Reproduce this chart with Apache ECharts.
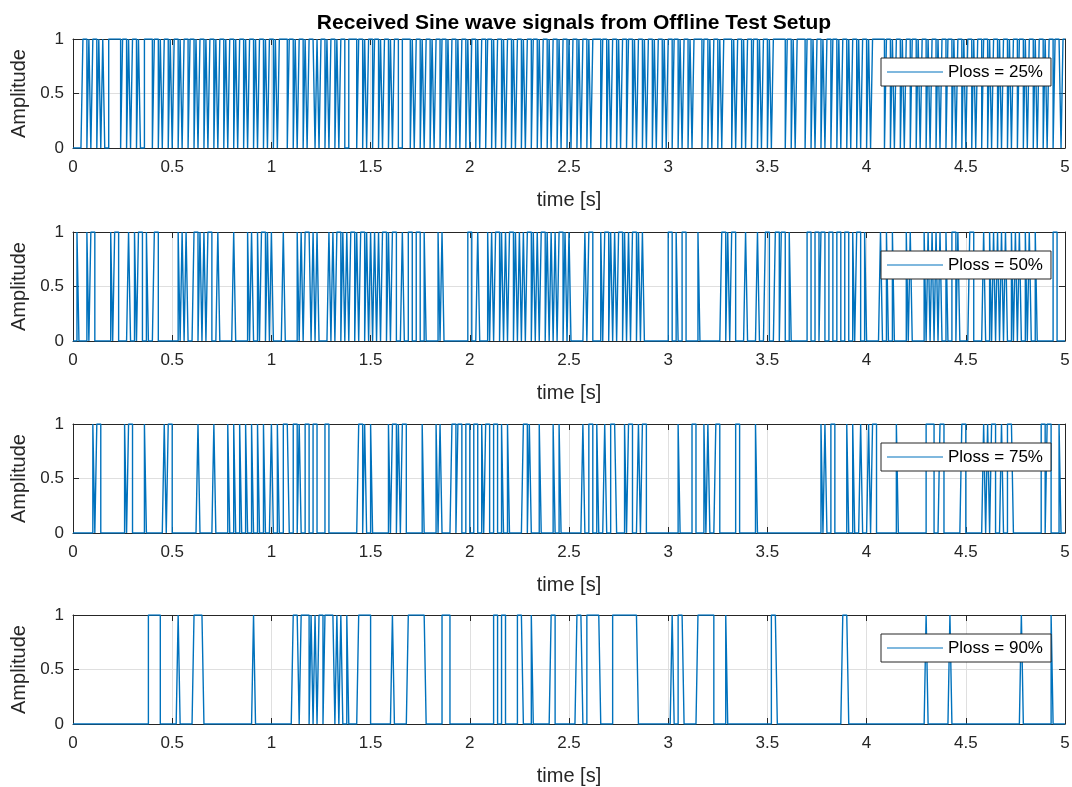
<!DOCTYPE html>
<html>
<head>
<meta charset="utf-8">
<script src="https://cdn.jsdelivr.net/npm/echarts/dist/echarts.min.js"></script>
<style>
  html, body { margin: 0; padding: 0; background: #ffffff; }
  #chart { width: 1072px; height: 787px; }
</style>
</head>
<body>
<div id="chart"></div>
<script>
// Sampling of the received signal
const SAMPLE_PERIOD = 0.01;   // s
const SAMPLE_COUNT = 501;     // samples 0 .. 500  ->  0 .. 5 s

const titleText = 'Received Sine wave signals from Offline Test Setup';
const xAxisName = 'time [s]';
const yAxisName = 'Amplitude';
const lossLabels = ['Ploss = 25%', 'Ploss = 50%', 'Ploss = 75%', 'Ploss = 90%'];

// Runs of samples at amplitude 1, given as [first, last] sample index
// (a single index means a one-sample pulse). Every other sample is 0.
const received25 = [
  [5,6],[8],[10,11],[13],[15],[18,23],
  [25,26],[28],[30,31],[33],[36,39],
  [41,42],[44],[46,47],[49],[51,52],[54],[56,57],[59,60],[62],[64,65],[67],[69,70],[72],[74,75],[77],
  [79,80],[82],[84,85],[87],[89,90],[92],[94,95],[97],[99,100],[102],[104,107],
  [109,110],[112],[114,115],[117],[119,121],[123],[125,126],[128],[130,131],[133],[135,136],[139,142],
  [144,145],[147],[149,150],[152,153],[155],[157,158],[160],[162,163],[166,169],
  [171],[173,174],[176],[178,179],[181],[183,184],[186,187],[189],[191,192],[194],[196,197],[199],
  [201,202],[204],[206,207],[209,210],[212],[214,215],[217],[219,220],[222],[224,225],[227],[229,230],
  [232,233],[235],[237,238],[240],[242,243],[245],[247,248],[250],[252,253],[255],[257,258],[260],[262,265],
  [267,268],[270],[272,273],[275],[277,278],[280,281],[283],[285,286],[288],[290,291],[293],[295,296],
  [298],[300,301],[303,304],[306],[308,309],[311],[313,316],
  [318,319],[321],[323,324],[326],[328,331],
  [333],[335,336],[338],[340,341],[343,344],[346],[348,349],[351],[353,358],
  [360,361],[363],[365,368],
  [370,371],[373],[375,376],[378],[380,381],[383,384],[386],[388,389],[391],[393,394],[396],[398,399],[401],[403,408],
  [410,411],[413],[415,416],[418],[420,421],[423,424],[426],[428,429],[431],[433,434],[436],[438,439],
  [441,442],[444],[446,447],[449],[451,452],[454],[456,457],[459,460],[462],[464,465],[467],[469,470],
  [472],[474,475],[477,478],[480],[482,483],[485],[487,488],[490],[492,493],[495,497],[499,500]
];

const received50 = [
  [2],[7],[9,10],[19],[21,22],[28],[31],[33,34],[37],[41,42],[53],[55],[57],[61,62],[64],[66],[68,69],
  [73],[81],[88],[90],[93],[95,96],[98],[100],[106],[113],[115],[117,119],[121],[123],
  [129],[131],[133,134],[136],[138],[140,141],[143],[145,146],[148],[150],[152],[154],[156,157],[159],
  [161,162],[166],[169,170],[173,174],[177],[184],[186],[199,200],[204],
  [209],[211],[213,214],[216],[218],[220,221],[223],[225],[227],[229,230],[232],[234],[236,237],[239],
  [241],[243],[245,246],[248],[250],[258],[260,261],
  [266],[268,269],[271],[273],[275,276],[278],[280],[282,283],[285],[287],
  [300,301],[304],[307,308],[315],[327,328],[330],[332,333],[339],[345],[349,350],[354,355],[357,358],[361],
  [370,371],[374,375],[377,378],[381,382],[385,386],[389,390],[393],[395,396],[399],
  [407],[410],[413],[420],[422],[429],[431],[433],[435],[437],[440],[443,444],[446],[452,453],
  [459],[462],[464],[466],[468],[470],[473],[475],[477],[480],[482],[485],[494,495]
];

const received75 = [
  [10],[12,13],[26],[28,29],[36],[46],[48,49],[63],[71],[78],[81],[84],[87],[90],[93],[96],[100],[103],
  [106,108],[111,112],[114],[117,118],[121,122],[127,128],[144,145],[147],[150],[159],[161,162],[164],
  [166,167],[176],[183],[185],[191,192],[194,195],[198,199],[202,203],[206],[208,209],[212,213],[216],
  [219],[227,228],[230],[235],[242],[245],[257],[260,261],[264],[268],[271,273],[278],[280,281],[285],
  [287,288],[305],[312,313],[318],[320],[324,325],[334,335],[344],
  [377],[379],[382,383],[390],[393],[397],[401],[403,404],[415],[430,433],[437,438],[448,449],
  [459],[461],[463,464],[468],[471,473],[488,489],[491,492],[497]
];

const received90 = [
  [38,43],[53],[61,65],[91],[111,113],[115,118],[120],[122],[124,125],[127,131],[133],[135],[138],
  [144,149],[161],[169,177],[186,189],[212,213],[216,217],[224,226],[231],[241,242],[254,256],
  [259,265],[272,284],[302],[305,307],[315,322],[329],[352,354],[388,390],[430],[442],[478],[493]
];

const receivedRuns = [received25, received50, received75, received90];

// Expand the runs into the sampled 0/1 signal, one [time, amplitude] pair per sample;
// each sample holds its value until the next one (drawn as steps).
function toSignal(runs) {
  const amp = new Array(SAMPLE_COUNT).fill(0);
  runs.forEach(run => {
    const first = run[0];
    const last = run.length > 1 ? run[1] : run[0];
    for (let n = first; n <= last; n++) amp[n] = 1;
  });
  return amp.map((a, n) => [Math.round(n * SAMPLE_PERIOD * 100) / 100, a]);
}

// Layout of the four stacked axes
const PLOT_LEFT = 73;
const PLOT_WIDTH = 992;
const PLOT_HEIGHT = 109;
const PLOT_TOPS = [39, 232, 424, 615];

const INK = '#262626';
const GRID_LINE = '#dfdfdf';
const LINE_BLUE = '#0072BD';
const FONT = '"Liberation Sans", Arial, Helvetica, sans-serif';

const grids = [], xAxes = [], yAxes = [], series = [], legends = [];

PLOT_TOPS.forEach((top, i) => {
  grids.push({
    left: PLOT_LEFT, top: top, width: PLOT_WIDTH, height: PLOT_HEIGHT,
    show: false, outerBoundsMode: 'none', containLabel: false
  });

  const tickStyle = { show: true, inside: true, length: 6, lineStyle: { color: INK, width: 1 } };
  const lineStyle = { show: true, onZero: false, lineStyle: { color: INK, width: 1 } };

  // bottom time axis with labels, plus a mirrored top axis for the box ticks
  xAxes.push({
    type: 'value', gridIndex: i, position: 'bottom', min: 0, max: 5, interval: 0.5,
    axisLine: lineStyle, axisTick: tickStyle,
    axisLabel: { show: true, fontSize: 17, color: INK, fontFamily: FONT, margin: 11,
                 showMinLabel: true, showMaxLabel: true, hideOverlap: false },
    splitLine: { show: true, lineStyle: { color: GRID_LINE, width: 1 } },
    name: xAxisName, nameLocation: 'middle', nameGap: 42,
    nameTextStyle: { fontSize: 20, color: INK, fontFamily: FONT }
  });
  xAxes.push({
    type: 'value', gridIndex: i, position: 'top', min: 0, max: 5, interval: 0.5,
    axisLine: lineStyle, axisTick: tickStyle,
    axisLabel: { show: false }, splitLine: { show: false }
  });

  // amplitude axis on the left, mirrored tick axis on the right
  yAxes.push({
    type: 'value', gridIndex: i, position: 'left', min: 0, max: 1, interval: 0.5,
    axisLine: lineStyle, axisTick: tickStyle,
    axisLabel: { show: true, fontSize: 17, color: INK, fontFamily: FONT, margin: 9,
                 showMinLabel: true, showMaxLabel: true, hideOverlap: false },
    splitLine: { show: true, lineStyle: { color: GRID_LINE, width: 1 } },
    name: yAxisName, nameLocation: 'middle', nameGap: 42, nameRotate: 90,
    nameTextStyle: { fontSize: 20, color: INK, fontFamily: FONT }
  });
  yAxes.push({
    type: 'value', gridIndex: i, position: 'right', min: 0, max: 1, interval: 0.5,
    axisLine: lineStyle, axisTick: tickStyle,
    axisLabel: { show: false }, splitLine: { show: false }
  });

  series.push({
    name: lossLabels[i],
    type: 'line',
    step: 'end',
    xAxisIndex: 2 * i,
    yAxisIndex: 2 * i,
    data: toSignal(receivedRuns[i]),
    showSymbol: false,
    symbol: 'none',
    clip: true,
    lineStyle: { color: LINE_BLUE, width: 1.4 },
    itemStyle: { color: LINE_BLUE },
    emphasis: { disabled: true },
    z: 3
  });

  legends.push({
    data: [lossLabels[i]],
    left: 881, top: top + 19,
    orient: 'horizontal',
    icon: 'rect', itemWidth: 56, itemHeight: 1, itemGap: 0,
    padding: [5, 8, 5, 6],
    backgroundColor: '#ffffff',
    borderColor: INK, borderWidth: 1, borderRadius: 0,
    selectedMode: false,
    textStyle: { fontSize: 17, color: '#000000', fontFamily: FONT, lineHeight: 18, padding: [0, 0, 0, 0] },
    z: 10
  });
});

const chart = echarts.init(document.getElementById('chart'), null, { renderer: 'canvas' });
chart.setOption({
  backgroundColor: '#ffffff',
  animation: false,
  title: {
    text: titleText,
    left: PLOT_LEFT + PLOT_WIDTH / 2,
    textAlign: 'center',
    top: 8,
    textStyle: { fontSize: 21, fontWeight: 'bold', color: '#000000', fontFamily: FONT }
  },
  legend: legends,
  grid: grids,
  xAxis: xAxes,
  yAxis: yAxes,
  series: series
});
</script>
</body>
</html>
